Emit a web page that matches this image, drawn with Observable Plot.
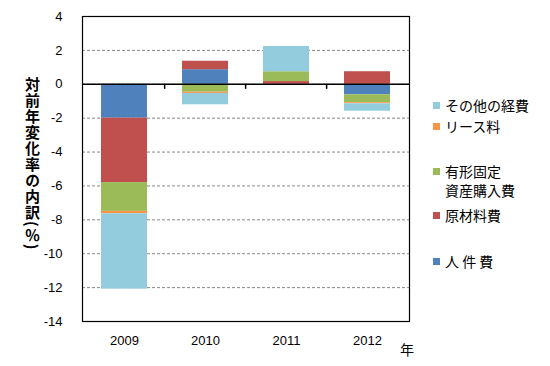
<!DOCTYPE html>
<html>
<head>
<meta charset="utf-8">
<script src="https://cdn.jsdelivr.net/npm/d3@7"></script>
<script src="https://cdn.jsdelivr.net/npm/@observablehq/plot@0.6"></script>
<style>
  body { margin: 0; background: #fff; }
  #wrap { position: relative; width: 550px; height: 366px; font-family: "Noto Sans CJK JP", sans-serif; }
  #ylab { position: absolute; left: 25px; top: 77px; writing-mode: vertical-rl; font-size: 15px; letter-spacing: 1px; font-weight: bold; line-height: 15px; color: #000; }
  .leg { position: absolute; left: 433px; font-size: 14px; line-height: 19px; color: #000; }
  .sw { position: absolute; left: 0; width: 7px; height: 7px; }
  .lt { position: absolute; left: 12px; white-space: nowrap; }
  #nen { position: absolute; left: 400px; top: 339px; font-size: 14px; }
</style>
</head>
<body>
<div id="wrap">
  <div id="chart"></div>
  <div id="ylab">対前年変化率の内訳(％)</div>
  <div id="legend"></div>
  <div id="nen">年</div>
</div>
<script>
const years = ["2009", "2010", "2011", "2012"];
const series = ["人件費", "原材料費", "有形固定資産購入費", "リース料", "その他の経費"];
const colors = ["#4F81BD", "#C0504D", "#9BBB59", "#F79646", "#93CDDD"];
const labor = [-2.0, 0.86, 0.0, -0.62];
const materials = [-3.8, 0.5, 0.16, 0.74];
const fixedAssets = [-1.7, -0.47, 0.58, -0.47];
const lease = [-0.14, -0.07, 0.0, -0.06];
const other = [-4.45, -0.67, 1.49, -0.44];
const yTicks = [4, 2, 0, -2, -4, -6, -8, -10, -12, -14];

const seriesValues = [labor, materials, fixedAssets, lease, other];
const data = [];
years.forEach((yr, i) => {
  series.forEach((s, j) => data.push({ year: yr, series: s, value: seriesValues[j][i] }));
});

const W = 550, H = 366, ML = 82, MR = 141, MT = 16, MB = 45;
const step = (W - ML - MR) / years.length;

const chart = Plot.plot({
  width: W, height: H,
  marginLeft: ML, marginRight: MR, marginTop: MT, marginBottom: MB,
  style: { fontFamily: "'Liberation Sans', Arial, sans-serif", fontSize: "13px", color: "#000", background: "#fff" },
  x: { domain: years, paddingInner: 0.437, paddingOuter: 0.2185, label: null },
  y: { domain: [-14, 4], label: null },
  color: { domain: series, range: colors },
  marks: [
    Plot.gridY(yTicks, { stroke: "#888", strokeOpacity: 1, strokeDasharray: "3,2" }),
    Plot.barY(data, { x: "year", y: "value", fill: "series", order: null }),
    Plot.ruleY([0], { stroke: "#000", strokeWidth: 1.5 }),
    Plot.ruleX(years.slice(1), { x: d => d, y1: 0, y2: -0.3, dx: -step / 2, stroke: "#000", strokeWidth: 1.5 }),
    Plot.frame({ stroke: "#000", strokeWidth: 1.2 }),
    Plot.axisY(yTicks, { tickSize: 0, tickPadding: 20, tickFormat: d => String(d) }),
    Plot.axisX({ tickSize: 0, tickPadding: 14 })
  ]
});
document.getElementById("chart").appendChild(chart);

const legendItems = [
  { name: "その他の経費", label: ["その他の経費"], cy: 105 },
  { name: "リース料", label: ["リース料"], cy: 126 },
  { name: "有形固定資産購入費", label: ["有形固定", "資産購入費"], cy: 171 },
  { name: "原材料費", label: ["原材料費"], cy: 215.5 },
  { name: "人件費", label: ["人 件 費"], cy: 261 }
];
const leg = document.getElementById("legend");
legendItems.forEach(it => {
  const d = document.createElement("div");
  d.className = "leg";
  d.style.top = (it.cy - 9.5) + "px";
  const sw = document.createElement("div");
  sw.className = "sw";
  sw.style.top = "6px";
  sw.style.background = colors[series.indexOf(it.name)];
  d.appendChild(sw);
  const t = document.createElement("div");
  t.className = "lt";
  t.innerHTML = it.label.join("<br>");
  d.appendChild(t);
  leg.appendChild(d);
});
</script>
</body>
</html>
